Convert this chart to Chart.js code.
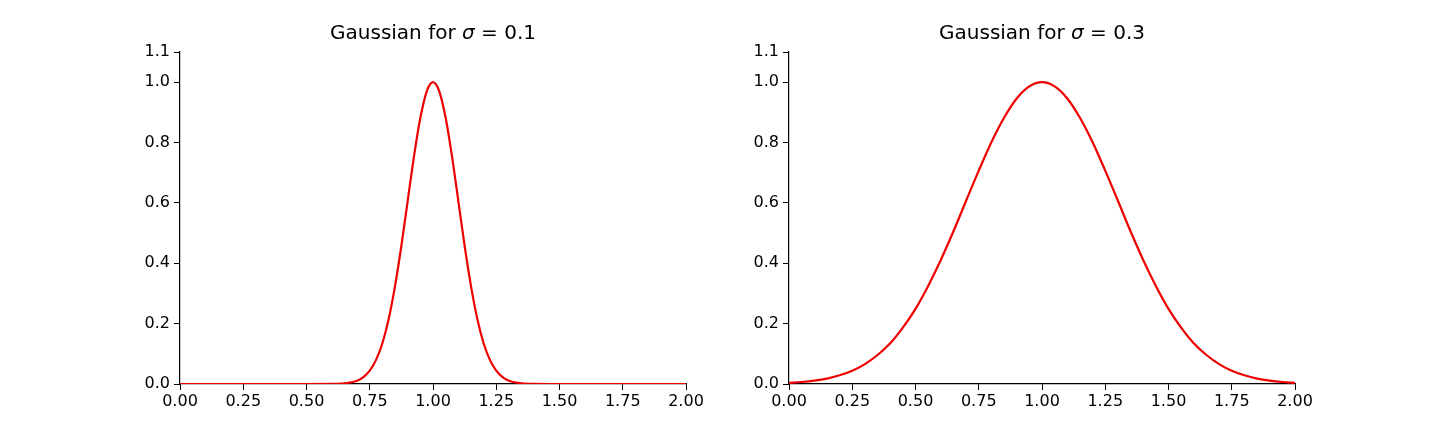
<!DOCTYPE html><html><head><script src="https://cdn.jsdelivr.net/npm/chart.js@4"></script>
<style>body{margin:0;background:#fff}canvas{position:absolute;top:0}</style></head><body>
<div style="position:absolute;left:0;top:0;width:720px;height:432px"><canvas id="c1"></canvas></div>
<div style="position:absolute;left:720px;top:0;width:720px;height:432px"><canvas id="c2"></canvas></div>
<script>
const x1=[0,0.25,0.5,0.6,0.65,0.7,0.725,0.75,0.775,0.8,0.825,0.85,0.875,0.9,0.925,0.95,0.975,1,1.025,1.05,1.075,1.1,1.125,1.15,1.175,1.2,1.225,1.25,1.275,1.3,1.35,1.4,1.5,1.75,2];
const y1=[0,0,0,0.0003,0.002,0.011,0.023,0.044,0.080,0.135,0.216,0.325,0.458,0.607,0.755,0.882,0.969,1,0.969,0.882,0.755,0.607,0.458,0.325,0.216,0.135,0.080,0.044,0.023,0.011,0.002,0.0003,0,0,0];
const x2=[0,0.05,0.1,0.15,0.2,0.25,0.3,0.35,0.4,0.45,0.5,0.55,0.6,0.65,0.7,0.75,0.8,0.85,0.9,0.95,1,1.05,1.1,1.15,1.2,1.25,1.3,1.35,1.4,1.45,1.5,1.55,1.6,1.65,1.7,1.75,1.8,1.85,1.9,1.95,2];
const y2=[0.004,0.0066,0.011,0.018,0.029,0.044,0.066,0.096,0.135,0.187,0.249,0.325,0.411,0.506,0.607,0.707,0.801,0.882,0.946,0.986,1,0.986,0.946,0.882,0.801,0.707,0.607,0.506,0.411,0.325,0.249,0.187,0.135,0.096,0.066,0.044,0.029,0.018,0.011,0.0066,0.004];
const F='DejaVu Sans';
function mk(id,xs,ys,sig,yw,pr){
 const tp={id:'tt',afterDraw(c){const a=c.chartArea,ctx=c.ctx;ctx.save();ctx.fillStyle='#000';ctx.textBaseline='alphabetic';
  const parts=[['Gaussian for ','20px '+F],['σ','italic 20px '+F],[' = '+sig,'20px '+F]];
  let w=0;parts.forEach(p=>{ctx.font=p[1];w+=ctx.measureText(p[0]).width});
  let x=(a.left+a.right)/2-w/2;parts.forEach(p=>{ctx.font=p[1];ctx.fillText(p[0],x,39);x+=ctx.measureText(p[0]).width});ctx.restore();}};
 new Chart(document.getElementById(id),{type:'line',data:{datasets:[{data:xs.map((v,i)=>({x:v,y:ys[i]})),borderColor:'#e00',borderWidth:2.2,pointRadius:0,cubicInterpolationMode:'monotone'}]},
 options:{responsive:true,maintainAspectRatio:false,animation:false,layout:{padding:{top:52,right:pr,left:0,bottom:0}},
 plugins:{legend:{display:false},tooltip:{enabled:false}},
 scales:{x:{type:'linear',min:0,max:2,ticks:{stepSize:0.25,color:'#000',font:{family:F,size:16},callback:v=>v.toFixed(2),maxRotation:0,padding:2},grid:{drawOnChartArea:false,tickLength:6,color:'#000'},border:{color:'#000',width:1.2},afterFit(s){s.height=48}},
  y:{min:0,max:1.1,ticks:{stepSize:0.2,color:'#000',font:{family:F,size:16},callback:v=>v.toFixed(1),padding:4},grid:{drawOnChartArea:false,tickLength:6,color:'#000'},border:{color:'#000',width:1.2},afterFit(s){s.width=yw}}}},plugins:[tp]});
}
mk('c1',x1,y1,'0.1',180,34);
mk('c2',x2,y2,'0.3',69,145);
</script></body></html>
